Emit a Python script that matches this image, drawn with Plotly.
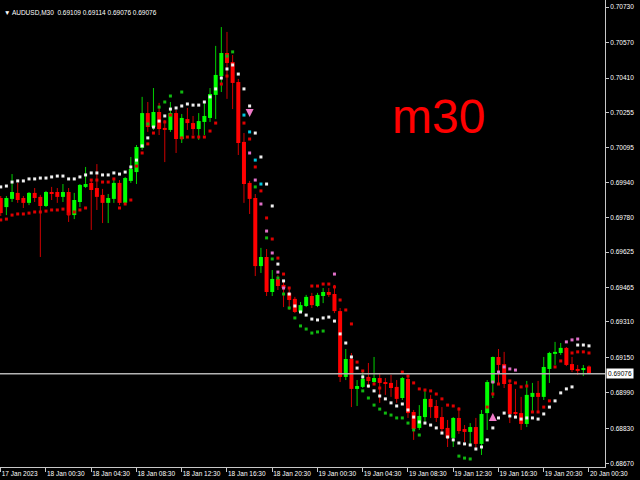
import plotly.graph_objects as go

# ---------------- data (AUDUSD, M30) ----------------
opens = [0.69869,0.69828,0.69865,0.69892,0.69869,0.69847,0.69892,0.69874,0.69833,0.69896,
         0.69896,0.69874,0.69896,0.69792,0.69851,0.69919,0.69937,0.69914,0.69883,0.69847,
         0.69865,0.69937,0.69847,0.69946,0.69986,0.70095,0.70252,0.70189,0.70257,0.70185,
         0.70176,0.70252,0.70135,0.70225,0.70207,0.70180,0.70212,0.70230,0.70334,0.70419,
         0.70523,0.70482,0.70392,0.70122,0.69937,0.69869,0.69562,0.69603,0.69445,0.69504,
         0.69477,0.69441,0.69414,0.69355,0.69382,0.69427,0.69382,0.69427,0.69445,0.69436,
         0.69359,0.69062,0.69143,0.69008,0.69017,0.69062,0.69039,0.69057,0.69039,0.69035,
         0.69017,0.68967,0.69053,0.68904,0.68832,0.68881,0.68963,0.68931,0.68881,0.68832,
         0.68787,0.68877,0.68827,0.68814,0.68836,0.68760,0.68899,0.69035,0.69152,0.69120,
         0.69030,0.68904,0.68899,0.68850,0.68972,0.68990,0.68972,0.69098,0.69166,0.69170,
         0.69193,0.69120,0.69098,0.69093,0.69109]
highs = [0.69878,0.69878,0.69977,0.69937,0.69878,0.69896,0.69914,0.69883,0.69901,0.69919,
         0.69914,0.69932,0.69914,0.69892,0.69932,0.70009,0.69950,0.70022,0.69910,0.69887,
         0.69955,0.69950,0.69964,0.70054,0.70108,0.70325,0.70302,0.70365,0.70298,0.70221,
         0.70302,0.70266,0.70248,0.70275,0.70239,0.70252,0.70298,0.70365,0.70555,0.70640,
         0.70618,0.70514,0.70406,0.70162,0.69946,0.69887,0.69644,0.69639,0.69544,0.69522,
         0.69499,0.69468,0.69423,0.69400,0.69432,0.69441,0.69441,0.69463,0.69463,0.69477,
         0.69373,0.69188,0.69170,0.69048,0.69093,0.69125,0.69152,0.69080,0.69057,0.69071,
         0.69048,0.69062,0.69071,0.68913,0.68935,0.69008,0.68981,0.68958,0.68926,0.68868,
         0.68881,0.68926,0.68845,0.68854,0.68877,0.68913,0.69048,0.69154,0.69188,0.69175,
         0.69048,0.69008,0.68972,0.69044,0.69035,0.69044,0.69152,0.69175,0.69220,0.69215,
         0.69197,0.69152,0.69116,0.69116,0.69114]
lows = [0.69788,0.69792,0.69851,0.69847,0.69824,0.69837,0.69851,0.69603,0.69828,0.69860,
        0.69847,0.69851,0.69761,0.69774,0.69828,0.69914,0.69725,0.69815,0.69756,0.69756,
        0.69847,0.69837,0.69837,0.69937,0.69932,0.70086,0.70167,0.70176,0.70153,0.70031,
        0.70167,0.70072,0.70117,0.70176,0.70153,0.70131,0.70153,0.70212,0.70225,0.70347,
        0.70316,0.70270,0.70063,0.69847,0.69797,0.69517,0.69531,0.69427,0.69427,0.69454,
        0.69377,0.69364,0.69350,0.69350,0.69377,0.69373,0.69377,0.69395,0.69423,0.69350,
        0.69039,0.69048,0.68926,0.68931,0.69012,0.69012,0.69026,0.68945,0.68981,0.68972,
        0.68945,0.68958,0.68877,0.68778,0.68823,0.68859,0.68877,0.68859,0.68809,0.68746,
        0.68746,0.68805,0.68769,0.68751,0.68737,0.68710,0.68823,0.68967,0.69026,0.69012,
        0.68854,0.68877,0.68823,0.68836,0.68899,0.68904,0.68958,0.69035,0.69116,0.69161,
        0.69111,0.69084,0.69071,0.69066,0.69076]
closes = [0.69801,0.69869,0.69896,0.69860,0.69847,0.69892,0.69869,0.69833,0.69896,0.69887,
          0.69874,0.69896,0.69792,0.69860,0.69928,0.69932,0.69905,0.69874,0.69847,0.69869,
          0.69937,0.69847,0.69959,0.70000,0.70099,0.70252,0.70189,0.70257,0.70180,0.70176,
          0.70252,0.70135,0.70230,0.70207,0.70180,0.70216,0.70239,0.70338,0.70424,0.70523,
          0.70478,0.70388,0.70117,0.69932,0.69865,0.69562,0.69603,0.69445,0.69504,0.69472,
          0.69463,0.69409,0.69355,0.69386,0.69423,0.69386,0.69432,0.69445,0.69432,0.69359,
          0.69062,0.69143,0.69008,0.69021,0.69053,0.69044,0.69057,0.69035,0.69030,0.69012,
          0.68963,0.69057,0.68899,0.68827,0.68886,0.68963,0.68926,0.68877,0.68827,0.68787,
          0.68877,0.68818,0.68814,0.68836,0.68760,0.68895,0.69039,0.69152,0.69116,0.69030,
          0.68895,0.68895,0.68850,0.68981,0.68990,0.68972,0.69107,0.69170,0.69175,0.69193,
          0.69116,0.69093,0.69089,0.69102,0.69076]

N = None
white_dots = [0.69919,0.69923,0.69941,0.69946,0.69946,0.69955,0.69955,0.69959,0.69959,0.69964,
              0.69968,0.69968,0.69955,0.69955,0.69964,0.69973,0.69982,0.69982,0.69973,0.69973,
              0.69982,0.69977,0.69986,0.70009,0.70040,0.70104,0.70140,0.70189,0.70216,0.70239,
              0.70270,0.70275,0.70284,0.70293,0.70288,0.70288,0.70302,0.70325,0.70361,0.70410,
              0.70451,0.70469,0.70428,0.70361,0.70284,0.70162,0.70054,0.69932,0.69833,0.69571,
              0.69495,0.69436,0.69382,0.69355,0.69341,0.69323,0.69319,0.69328,0.69332,0.69314,
              0.69256,0.69215,0.69152,0.69102,0.69062,0.69021,0.68999,0.68976,0.68963,0.68945,
              0.68931,0.68940,0.68913,0.68881,0.68859,0.68854,0.68845,0.68832,0.68809,0.68791,
              0.68778,0.68764,0.68760,0.68755,0.68737,0.68746,0.68778,0.68832,0.68877,0.68899,
              0.68886,0.68881,0.68872,0.68877,0.68877,0.68872,0.68895,0.68926,0.68954,0.68990,
              0.69008,0.69017,0.69206,0.69206,0.69202]
red_dots = [0.69770,0.69774,0.69792,0.69797,0.69797,0.69801,0.69806,0.69806,0.69810,0.69815,
            0.69815,0.69819,0.69797,0.69806,0.69815,0.69824,0.69950,0.69950,0.69941,0.69941,
            0.69955,0.69824,0.69842,0.69860,0.70013,0.70072,0.70113,0.70162,N,0.70212,
            0.70243,N,0.70140,0.70144,0.70144,0.70144,0.70144,0.70171,0.70207,0.70383,
            0.70419,N,N,0.70207,0.70135,0.70009,0.69901,0.69779,0.69684,0.69598,
            0.69526,0.69463,N,N,N,0.69472,0.69472,0.69481,0.69481,0.69468,
            0.69409,0.69364,0.69301,0.69129,0.69089,0.69053,0.69030,0.69012,N,N,
            N,0.69084,0.69066,0.69035,0.69008,0.69003,0.68999,0.68985,0.68963,0.68935,
            0.68931,0.68917,N,N,N,N,0.68926,0.68985,0.69030,N,
            0.69044,0.69035,0.69017,0.69021,0.68904,0.68904,0.68926,0.68954,0.69107,0.69134,
            N,0.69170,0.69175,0.69175,0.69170]
green_dots = [N,N,N,N,N,N,N,N,N,N,
              N,N,N,N,N,N,N,N,N,N,
              N,N,N,N,N,N,0.70203,N,0.70279,0.70302,
              0.70329,N,0.70347,N,N,N,N,N,N,N,
              0.70509,0.70528,N,N,N,0.69919,N,0.69689,0.69594,0.69508,
              0.69436,0.69373,0.69328,0.69292,0.69278,0.69260,0.69265,0.69269,N,N,
              N,N,N,N,0.68999,0.68967,0.68935,0.68917,0.68899,0.68890,
              0.68877,0.68877,0.68854,0.68823,0.68800,N,N,N,N,N,
              N,0.68705,0.68696,0.68692,N,N,N,N,N,N,
              N,N,N,N,N,N,N,N,N,N,
              N,N,N,N,N]
cyan_bars = [43, 44, 45, 46]
cyan_dots = [0.70243, 0.70167, 0.70040, 0.69932]
pink_bars = [44, 45, 46, 47, 48, 49, 50, 59, 87, 88, 89, 90, 91, 100, 101, 102]
pink_dots = [0.70072, 0.69950, 0.69842, 0.69720, 0.69621, 0.69535, 0.69463, 0.69526,
             0.69039, 0.69084, 0.69107, 0.69098, 0.69093, 0.69220, 0.69229, 0.69233]
sell_arrow_bars = [44]
sell_arrow_prices = [0.70234]
buy_arrow_bars = [87]
buy_arrow_prices = [0.68899]

time_tick_bars = [0, 8, 16, 24, 32, 40, 48, 56, 64, 72, 80, 88, 96, 104]
time_tick_labels = ["17 Jan 2023", "18 Jan 00:30", "18 Jan 04:30", "18 Jan 08:30", "18 Jan 12:30",
                    "18 Jan 16:30", "18 Jan 20:30", "19 Jan 00:30", "19 Jan 04:30", "19 Jan 08:30",
                    "19 Jan 12:30", "19 Jan 16:30", "19 Jan 20:30", "20 Jan 00:30"]
price_ticks = [0.70730, 0.70570, 0.70410, 0.70255, 0.70095, 0.69940, 0.69780,
               0.69625, 0.69465, 0.69310, 0.69150, 0.68990, 0.68830, 0.68670]

symbol = "AUDUSD,M30"
timeframe_label = "m30"

# ---------------- styling ----------------
BULL = "#00FF00"
BEAR = "#FF0000"
BULL_WICK = "#00D000"
BEAR_WICK = "#D00000"
FONT = "Liberation Sans, Arial, sans-serif"
AXIS = "#C8C8C8"

bars = list(range(len(opens)))

def segs(idx, y0, y1):
    xs, ys = [], []
    for i in idx:
        xs += [bars[i], bars[i], None]
        ys += [y0[i], y1[i], None]
    return xs, ys

up = [i for i in bars if closes[i] >= opens[i]]
dn = [i for i in bars if closes[i] < opens[i]]

# body ends (doji get a thin visible body)
MIN_B = 0.000018
btop = [max(o, c) if abs(o - c) >= MIN_B else (o + c) / 2 + MIN_B / 2 for o, c in zip(opens, closes)]
bbot = [min(o, c) if abs(o - c) >= MIN_B else (o + c) / 2 - MIN_B / 2 for o, c in zip(opens, closes)]

fig = go.Figure()
for idx, col in ((up, BULL_WICK), (dn, BEAR_WICK)):
    xs, ys = segs(idx, lows, highs)
    fig.add_trace(go.Scatter(x=xs, y=ys, mode="lines", line=dict(color=col, width=1),
                             hoverinfo="skip", showlegend=False))
for idx, col in ((up, BULL), (dn, BEAR)):
    xs, ys = segs(idx, bbot, btop)
    fig.add_trace(go.Scatter(x=xs, y=ys, mode="lines", line=dict(color=col, width=4),
                             hoverinfo="skip", showlegend=False))

def dots(x, y, col):
    fig.add_trace(go.Scatter(x=x, y=y, mode="markers",
                             marker=dict(symbol="square", size=3, color=col, line=dict(width=0)),
                             showlegend=False, hoverinfo="skip"))

dots(bars, white_dots, "#F0F0F0")
dots(bars, red_dots, "#E00000")
dots(bars, green_dots, "#10B810")
dots(cyan_bars, cyan_dots, "#00C8E0")
dots(pink_bars, pink_dots, "#E070C8")

fig.add_trace(go.Scatter(x=sell_arrow_bars, y=sell_arrow_prices, mode="markers",
                         marker=dict(symbol="arrow-down", size=8, color="#F07AC8"),
                         showlegend=False, hoverinfo="skip"))
fig.add_trace(go.Scatter(x=buy_arrow_bars, y=buy_arrow_prices, mode="markers",
                         marker=dict(symbol="arrow-up", size=8, color="#F07AC8"),
                         showlegend=False, hoverinfo="skip"))

last = closes[-1]
fig.add_shape(type="line", xref="paper", x0=0, x1=1, yref="y", y0=last, y1=last,
              line=dict(color="#B4B4B4", width=1.5))

fig.add_annotation(xref="paper", yref="y", x=1, y=last, xanchor="left", yanchor="middle",
                   xshift=1, text=f"{last:.5f}", showarrow=False, bgcolor="#FFFFFF",
                   font=dict(family=FONT, size=6.5, color="#000000"), borderpad=1)

fig.add_annotation(xref="paper", yref="paper", x=0, y=1, xanchor="left", yanchor="top",
                   xshift=2, yshift=-7,
                   text=f"▼ {symbol}  {opens[-1]:.5f} {highs[-1]:.5f} {lows[-1]:.5f} {closes[-1]:.5f}",
                   showarrow=False, font=dict(family=FONT, size=6.5, color="#FFFFFF"))

fig.add_annotation(xref="paper", yref="paper", x=0.644, y=0.75, xanchor="left", yanchor="middle",
                   text=timeframe_label, showarrow=False,
                   font=dict(family=FONT, size=48, color="#FF0000"))

fig.update_layout(
    width=640, height=480,
    margin=dict(l=0, r=35, t=0, b=13),
    paper_bgcolor="#000000", plot_bgcolor="#000000",
    showlegend=False, hovermode=False,
    xaxis=dict(range=[-0.13, 106.83], showgrid=False, zeroline=False,
               showline=True, linecolor=AXIS, linewidth=1,
               ticks="outside", ticklen=4, tickcolor=AXIS,
               tickvals=time_tick_bars, ticktext=time_tick_labels,
               tickangle=0,
               ticklabelposition="outside right", ticklabelstandoff=0,
               tickfont=dict(family=FONT, size=6.5, color="#FFFFFF"),
               automargin=False, fixedrange=True),
    yaxis=dict(range=[0.686558, 0.707620], side="right", showgrid=False, zeroline=False,
               showline=True, linecolor=AXIS, linewidth=1,
               ticks="outside", ticklen=3, tickcolor=AXIS,
               tickvals=price_ticks, ticktext=[f"{p:.5f}" for p in price_ticks],
               tickfont=dict(family=FONT, size=6.5, color="#FFFFFF"),
               automargin=False, fixedrange=True),
)

fig.write_html("out.html", config={"displayModeBar": False, "staticPlot": True},
               post_script="document.body.style.margin='0px';document.body.style.overflow='hidden';")
